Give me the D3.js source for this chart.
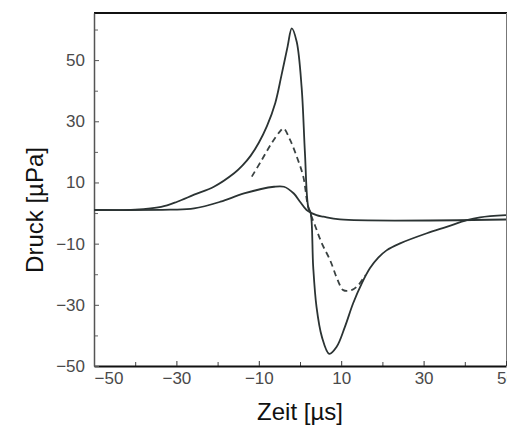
<!DOCTYPE html>
<html>
<head>
<meta charset="utf-8">
<script src="https://cdn.jsdelivr.net/npm/d3@7"></script>
<style>
  body { margin: 0; background: #fff; }
  .tick text { font-family: "Liberation Sans", Arial, sans-serif; font-size: 17px; fill: #4a4a4a; }
  .axisTitle { font-family: "Liberation Sans", Arial, sans-serif; font-size: 24px; fill: #111; }
</style>
</head>
<body>
<div id="chart"></div>
<script>
//Time values (µs) and pressure values (µPa)
var bigTime = [-50, -40, -33.7, -29.8, -25.7, -20.9, -16, -14, -12, -10, -8, -6, -4.5, -3, -2, -0.8, 0.4, 1.2, 2, 2.6, 3.2, 4, 5.3, 7.1, 8.9, 10.9, 12.9, 15, 17, 19, 21, 24.3, 30.8, 35.6, 40.5, 43.7, 50];
var bigPressure = [1, 1.1, 2, 3.7, 6, 8.6, 13, 15.5, 18.7, 23, 28.5, 36, 45, 54.5, 60.4, 56, 41, 19.6, 2, 0, -17.5, -30.6, -40.4, -46, -43.7, -37.2, -29.5, -23, -18, -14.6, -12.2, -9.9, -6.6, -4.5, -2.3, -1.4, -0.7];

var dashTime = [-11.7, -9.3, -6.9, -4.9, -4, -2.4, -0.8, 0.8, 2, 3.6, 5.3, 7.3, 9.3, 10.5, 12.5, 14.2, 15.8];
var dashPressure = [11.9, 17.3, 22.8, 26.6, 27.7, 23.9, 18.5, 11.9, 2, -3.9, -9.9, -15.4, -22.4, -25.2, -25.2, -23.5, -20.3];

var smallTime = [-50, -31.5, -25.7, -19.3, -13.6, -6.3, -3.9, -1.5, 0, 1.6, 4, 5.7, 9.7, 50];
var smallPressure = [1, 1.1, 1.5, 3.7, 6.4, 8.6, 8.6, 6.4, 3.7, 1, -0.7, -1.2, -2.1, -2.1];

//Axis ticks
var xLabelTicks = [-50, -30, -10, 10, 30, 50];
var xMinorTicks = [-40, -20, 0, 20, 40];
var yLabelTicks = [-50, -30, -10, 10, 30, 50];
var yMinorTicks = [-40, -20, 0, 20, 40, 60];

var svgWidth = 507;
var svgHeight = 427;

var margin = { top: 13, bottom: 61, left: 94, right: 1 };
var chartWidth = svgWidth - margin.left - margin.right;
var chartHeight = svgHeight - margin.top - margin.bottom;

var svg = d3.select("#chart")
    .append("svg")
    .attr("width", svgWidth)
    .attr("height", svgHeight);

var chartGroup = svg.append("g")
    .attr("transform", `translate(${margin.left}, ${margin.top})`);

//Scales
var xScale = d3.scaleLinear().domain([-50, 50]).range([0, chartWidth]);
var yScale = d3.scaleLinear().domain([-50, 65.4]).range([chartHeight, 0]);

//Minus sign formatter
var fmt = function(d) { return d < 0 ? "\u2212" + Math.abs(d) : d; };

//Frame: top and right
chartGroup.append("line")
    .attr("x1", 0).attr("x2", chartWidth + 1)
    .attr("y1", 0).attr("y2", 0)
    .attr("stroke", "#111").attr("stroke-width", 2);
chartGroup.append("line")
    .attr("x1", chartWidth + 0.5).attr("x2", chartWidth + 0.5)
    .attr("y1", 0).attr("y2", chartHeight)
    .attr("stroke", "#777").attr("stroke-width", 1);

//Minor ticks (no labels)
chartGroup.append("g")
    .attr("transform", `translate(0, ${chartHeight})`)
    .call(d3.axisBottom(xScale).tickValues(xMinorTicks).tickSize(-4).tickFormat(""))
    .call(g => g.select(".domain").remove())
    .selectAll("line").attr("stroke", "#444");
chartGroup.append("g")
    .call(d3.axisLeft(yScale).tickValues(yMinorTicks).tickSize(-4).tickFormat(""))
    .call(g => g.select(".domain").remove())
    .selectAll("line").attr("stroke", "#666");

//Bottom axis
var bottomAxis = d3.axisBottom(xScale)
    .tickValues(xLabelTicks)
    .tickSizeInner(-5)
    .tickSizeOuter(0)
    .tickPadding(6)
    .tickFormat(fmt);
var xAxisG = chartGroup.append("g")
    .attr("transform", `translate(0, ${chartHeight})`)
    .call(bottomAxis);
xAxisG.select(".domain").attr("stroke", "#111").attr("stroke-width", 2);
xAxisG.selectAll(".tick line").attr("stroke", "#333");
//first label sits to the right of the corner
xAxisG.selectAll(".tick text").filter(d => d === -50).attr("text-anchor", "start");

//Left axis
var leftAxis = d3.axisLeft(yScale)
    .tickValues(yLabelTicks)
    .tickSizeInner(-5)
    .tickSizeOuter(0)
    .tickPadding(9)
    .tickFormat(fmt);
var yAxisG = chartGroup.append("g").call(leftAxis);
yAxisG.select(".domain").attr("stroke", "#555").attr("stroke-width", 1.5);
yAxisG.selectAll(".tick line").attr("stroke", "#555");

//Line generator
var line = d3.line()
    .x(d => xScale(d[0]))
    .y(d => yScale(d[1]))
    .curve(d3.curveCatmullRom.alpha(0.5));

var bigData = d3.zip(bigTime, bigPressure);
var dashData = d3.zip(dashTime, dashPressure);
var smallData = d3.zip(smallTime, smallPressure);

chartGroup.append("path")
    .datum(smallData)
    .attr("d", line)
    .attr("fill", "none")
    .attr("stroke", "#2b3333")
    .attr("stroke-width", 1.8);

chartGroup.append("path")
    .datum(dashData)
    .attr("d", line)
    .attr("fill", "none")
    .attr("stroke", "#3a4242")
    .attr("stroke-width", 1.8)
    .attr("stroke-dasharray", "6,4");

chartGroup.append("path")
    .datum(bigData)
    .attr("d", line)
    .attr("fill", "none")
    .attr("stroke", "#2b3333")
    .attr("stroke-width", 1.8);

//Axis titles
svg.append("text")
    .attr("class", "axisTitle")
    .attr("text-anchor", "middle")
    .attr("transform", "translate(43, 210) rotate(-90)")
    .text("Druck [\u00b5Pa]");

svg.append("text")
    .attr("class", "axisTitle")
    .attr("text-anchor", "middle")
    .attr("x", 300)
    .attr("y", 420)
    .text("Zeit [\u00b5s]");
</script>
</body>
</html>
